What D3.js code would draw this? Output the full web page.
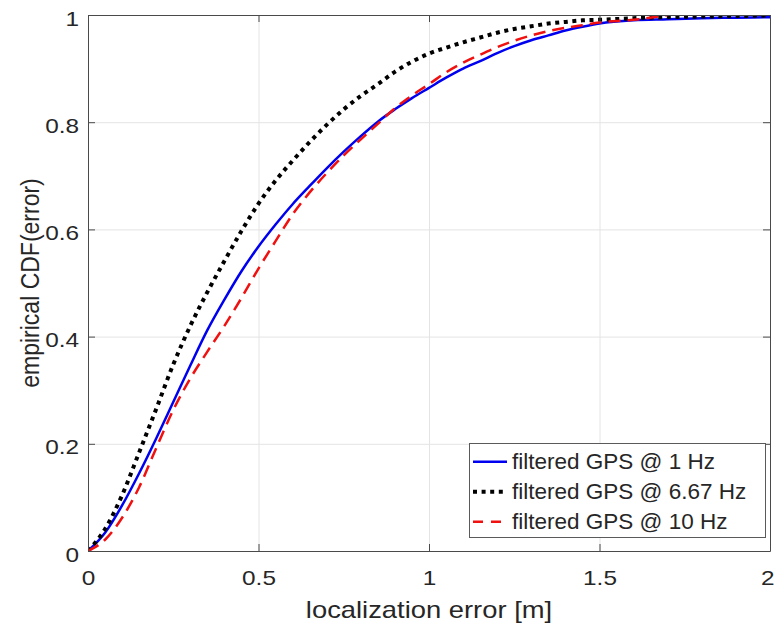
<!DOCTYPE html>
<html>
<head>
<meta charset="utf-8">
<script src="https://cdn.jsdelivr.net/npm/d3@7"></script>
<style>
  html, body { margin: 0; padding: 0; background: #fff; }
  svg { display: block; }
</style>
</head>
<body>
<svg id="chart" width="775" height="626"></svg>
<script>
// Localization error values (m) at which the empirical CDFs are sampled
const errorGrid = [0, 0.05, 0.1, 0.15, 0.2, 0.25, 0.3, 0.35, 0.4, 0.45, 0.5, 0.55, 0.6, 0.65, 0.7, 0.75,
  0.8, 0.85, 0.9, 0.95, 1.0, 1.05, 1.1, 1.15, 1.2, 1.25, 1.3, 1.35, 1.4, 1.45, 1.5, 1.6, 1.7, 1.8, 1.9, 2.0];

// Empirical CDF of the filtered GPS error for each update rate
const cdf1Hz = [0, 0.034, 0.085, 0.145, 0.210, 0.278, 0.346, 0.412, 0.469, 0.522, 0.568, 0.609, 0.647, 0.681, 0.714, 0.745,
  0.774, 0.801, 0.824, 0.845, 0.864, 0.883, 0.900, 0.914, 0.929, 0.942, 0.953, 0.962, 0.971, 0.978, 0.984, 0.990, 0.992, 0.994, 0.995, 0.996];
const cdf667Hz = [0, 0.041, 0.104, 0.184, 0.265, 0.348, 0.420, 0.483, 0.541, 0.597, 0.648, 0.691, 0.728, 0.763, 0.795, 0.824,
  0.849, 0.871, 0.894, 0.913, 0.928, 0.939, 0.949, 0.958, 0.967, 0.974, 0.979, 0.984, 0.987, 0.990, 0.991, 0.994, 0.996, 0.997, 0.998, 0.999];
// the 10 Hz run has no errors beyond 1.7 m, so its CDF stops there
const cdf10Hz = [0, 0.021, 0.062, 0.119, 0.192, 0.263, 0.322, 0.372, 0.420, 0.472, 0.527, 0.578, 0.628, 0.669, 0.705, 0.738,
  0.768, 0.797, 0.826, 0.850, 0.871, 0.893, 0.911, 0.926, 0.940, 0.952, 0.962, 0.970, 0.976, 0.981, 0.986, 0.991, 1.0];

const seriesNames = ["filtered GPS @ 1 Hz", "filtered GPS @ 6.67 Hz", "filtered GPS @ 10 Hz"];

const xTicks = [0, 0.5, 1, 1.5, 2];
const xTickLabels = ["0", "0.5", "1", "1.5", "2"];
const yTicks = [0, 0.2, 0.4, 0.6, 0.8, 1];
const yTickLabels = ["0", "0.2", "0.4", "0.6", "0.8", "1"];

const xTitle = "localization error [m]";
const yTitle = "empirical CDF(error)";

// ---- layout & styles ----
const margin = { top: 15, right: 5, bottom: 75, left: 88 };
const width = 775, height = 626;
const plotW = width - margin.left - margin.right;
const plotH = height - margin.top - margin.bottom;
const font = "'Liberation Sans', Arial, Helvetica, sans-serif";
const textColor = "#262626";
const axisColor = "#4a4a4a";
const gridColor = "#e4e4e4";

const styles = [
  { color: "#0000f0", width: 2.5, dash: null },
  { color: "#000000", width: 4, dash: "4 4.6" },
  { color: "#f01010", width: 2.5, dash: "12 7" }
];

const svg = d3.select("#chart");

const x = d3.scaleLinear().domain([0, 2]).range([margin.left, margin.left + plotW]);
const y = d3.scaleLinear().domain([0, 1]).range([margin.top + plotH, margin.top]);

// grid lines
svg.append("g")
  .attr("transform", `translate(0,${y(0)})`)
  .call(d3.axisBottom(x).tickValues(xTicks).tickSize(-plotH).tickFormat(""))
  .call(g => g.select(".domain").remove())
  .call(g => g.selectAll(".tick line").attr("stroke", gridColor).attr("stroke-width", 1));
svg.append("g")
  .attr("transform", `translate(${x(0)},0)`)
  .call(d3.axisLeft(y).tickValues(yTicks).tickSize(-plotW).tickFormat(""))
  .call(g => g.select(".domain").remove())
  .call(g => g.selectAll(".tick line").attr("stroke", gridColor).attr("stroke-width", 1));

// curves
svg.append("clipPath").attr("id", "plotClip")
  .append("rect").attr("x", x(0)).attr("y", y(1)).attr("width", plotW).attr("height", plotH);

const seriesValues = [cdf1Hz, cdf667Hz, cdf10Hz];
const line = d3.line()
  .x(d => x(d[0]))
  .y(d => y(d[1]))
  .curve(d3.curveMonotoneX);

const curves = svg.append("g").attr("clip-path", "url(#plotClip)");
seriesValues.forEach((vals, i) => {
  const pts = vals.map((v, k) => [errorGrid[k], v]);
  curves.append("path")
    .datum(pts)
    .attr("d", line)
    .attr("fill", "none")
    .attr("stroke", styles[i].color)
    .attr("stroke-width", styles[i].width)
    .attr("stroke-dasharray", styles[i].dash)
    .attr("stroke-linecap", "butt")
    .attr("stroke-linejoin", "round");
});

// axes box with inward ticks on every side
function styleAxis(g) {
  g.attr("font-family", font).attr("font-size", 21);
  g.select(".domain").attr("stroke", axisColor).attr("stroke-width", 1);
  g.selectAll(".tick line").attr("stroke", axisColor).attr("stroke-width", 1);
  g.selectAll(".tick text").attr("fill", textColor);
}

svg.append("g")
  .attr("transform", `translate(0,${y(0)})`)
  .call(d3.axisBottom(x).tickValues(xTicks).tickFormat((d, i) => xTickLabels[i]).tickSizeInner(-7).tickSizeOuter(0))
  .call(styleAxis)
  .call(g => g.selectAll(".tick text")
    .attr("y", null).attr("dy", null)
    .attr("transform", "translate(0,34) scale(1.16,1)"))
  // the last label sits at the window edge: right-align it so it stays whole
  .call(g => g.selectAll(".tick text").filter(d => d === 2)
    .attr("text-anchor", "end")
    .attr("transform", "translate(4,34) scale(1.16,1)"));

svg.append("g")
  .attr("transform", `translate(${x(0)},0)`)
  .call(d3.axisLeft(y).tickValues(yTicks).tickFormat((d, i) => yTickLabels[i]).tickSizeInner(-7).tickSizeOuter(0))
  .call(styleAxis)
  .call(g => g.selectAll(".tick text")
    .attr("x", null).attr("dy", null)
    .attr("text-anchor", "end")
    .attr("transform", "translate(-9,10) scale(1.16,1)"));

svg.append("g")
  .attr("transform", `translate(0,${y(1)})`)
  .call(d3.axisTop(x).tickValues(xTicks).tickFormat("").tickSizeInner(-7).tickSizeOuter(0))
  .call(styleAxis);

svg.append("g")
  .attr("transform", `translate(${x(2)},0)`)
  .call(d3.axisRight(y).tickValues(yTicks).tickFormat("").tickSizeInner(-7).tickSizeOuter(0))
  .call(styleAxis);

// axis titles
svg.append("text")
  .attr("transform", `translate(${(x(0) + x(2)) / 2},618) scale(1.19,1)`)
  .attr("text-anchor", "middle")
  .attr("font-family", font).attr("font-size", 23)
  .attr("fill", textColor)
  .text(xTitle);

svg.append("text")
  .attr("transform", `translate(39,${(y(0) + y(1)) / 2}) scale(1.14,1) rotate(-90)`)
  .attr("text-anchor", "middle")
  .attr("font-family", font).attr("font-size", 23)
  .attr("fill", textColor)
  .text(yTitle);

// legend
const legend = svg.append("g").attr("transform", "translate(469,443)");
legend.append("rect")
  .attr("x", 0.5).attr("y", 0.5)
  .attr("width", 296).attr("height", 94)
  .attr("fill", "#fff")
  .attr("stroke", "#5a5a5a").attr("stroke-width", 1);

seriesNames.forEach((name, i) => {
  const cy = 18.7 + i * 30;
  legend.append("line")
    .attr("x1", 4).attr("x2", 38)
    .attr("y1", cy).attr("y2", cy)
    .attr("stroke", styles[i].color)
    .attr("stroke-width", styles[i].width)
    .attr("stroke-dasharray", i === 2 ? "10 8" : styles[i].dash);
  legend.append("text")
    .attr("x", 43).attr("y", cy + 6.8)
    .attr("font-family", font).attr("font-size", 22.5)
    .attr("fill", textColor)
    .text(name);
});
</script>
</body>
</html>
